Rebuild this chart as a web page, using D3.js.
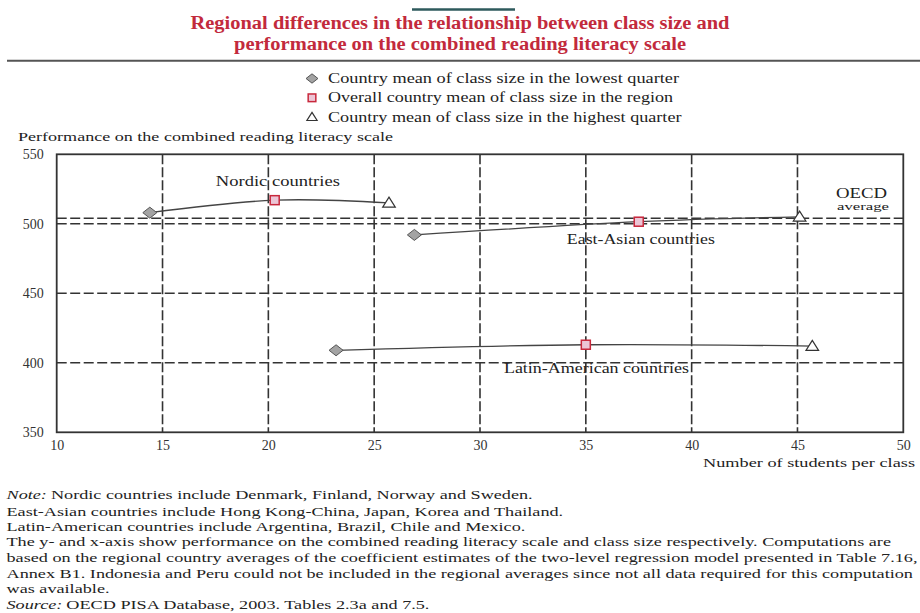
<!DOCTYPE html>
<html><head><meta charset="utf-8">
<script src="https://cdn.jsdelivr.net/npm/d3@7"></script>
<style>
html,body{margin:0;padding:0;background:#fff;}
svg{display:block;}
</style></head>
<body><svg id="chart" width="920" height="613"></svg>
<script>
// ---- data ----
const regions = ["Nordic countries", "East-Asian countries", "Latin-American countries"];
const lowX  = [14.4, 26.9, 23.2];   // class size, lowest quarter
const lowY  = [508, 492, 409];
const meanX = [20.3, 37.5, 35.0];   // overall regional mean class size
const meanY = [517, 501.5, 413];
const highX = [25.7, 45.1, 45.7];   // class size, highest quarter
const highY = [515, 505, 412];
const labelX = [20.45, 37.6, 35.5];
const labelY = [527, 485.5, 393];
const oecdAverage = 504;
const xTicks = [10, 15, 20, 25, 30, 35, 40, 45, 50];
const yTicks = [350, 400, 450, 500, 550];
const titleLines = ["Regional differences in the relationship between class size and",
                    "performance on the combined reading literacy scale"];
const legendLabels = ["Country mean of class size in the lowest quarter",
                      "Overall country mean of class size in the region",
                      "Country mean of class size in the highest quarter"];
const noteLead = ["Note:", "", "", "", "", "", "", "Source:"];
const noteText = [
  "Nordic countries include Denmark, Finland, Norway and Sweden.",
  "East-Asian countries include Hong Kong-China, Japan, Korea and Thailand.",
  "Latin-American countries include Argentina, Brazil, Chile and Mexico.",
  "The y- and x-axis show performance on the combined reading literacy scale and class size respectively.  Computations are",
  "based on the regional country averages of the coefficient estimates of the two-level regression model presented in Table 7.16,",
  "Annex B1.  Indonesia and Peru could not be included in the regional averages since not all data required for this computation",
  "was available.",
  "OECD PISA Database, 2003. Tables 2.3a and 7.5."
];

const FONT = "'Liberation Serif', 'DejaVu Serif', serif";

// ---- layout ----
const svg = d3.select("#chart");
const x = d3.scaleLinear().domain([10, 50]).range([56.7, 903.3]);
const y = d3.scaleLinear().domain([350, 550]).range([432.3, 154.3]);

function txt(parent, xx, yy, s, size, opts) {
  opts = opts || {};
  const t = parent.append("text").attr("x", xx).attr("y", yy)
    .attr("font-family", FONT).style("font-family", FONT)
    .style("font-size", size + "px").style("fill", opts.fill || "#222")
    .attr("text-anchor", opts.anchor || "start").text(s);
  if (opts.italic) t.style("font-style", "italic");
  if (opts.weight) t.style("font-weight", opts.weight);
  if (opts.w) t.attr("textLength", opts.w).attr("lengthAdjust", "spacingAndGlyphs");
  return t;
}

// top decorative bar & rule
svg.append("line").attr("x1", 412).attr("x2", 515).attr("y1", 9.5).attr("y2", 9.5)
  .attr("stroke", "#2e5a5c").attr("stroke-width", 2.5);
svg.append("line").attr("x1", 7).attr("x2", 920).attr("y1", 60.7).attr("y2", 60.7)
  .attr("stroke", "#555").attr("stroke-width", 2);

// title
const titleW = [539, 452];
titleLines.forEach((t, i) => {
  txt(svg, 460, 28.5 + i * 21.5, t, 18.5, {anchor: "middle", w: titleW[i], fill: "#c22a3c", weight: "bold"});
});

// legend
const legW = [351, 345, 353.5];
legendLabels.forEach((t, i) => {
  const cy = 78.5 + i * 19.3;
  const g = svg.append("g").attr("transform", `translate(312,${cy})`);
  drawMarker(g, i, 0.85);
  txt(svg, 328, cy + 4.5, t, 14, {w: legW[i]});
});

function drawMarker(g, kind, s) {
  s = s || 1;
  if (kind === 0) {
    g.append("path").attr("d", `M${-7*s},0 L0,${-5.5*s} L${7*s},0 L0,${5.5*s} Z`)
      .attr("fill", "#a3a3a3").attr("stroke", "#555").attr("stroke-width", 1);
  } else if (kind === 1) {
    g.append("rect").attr("x", -4.5*s).attr("y", -4.5*s).attr("width", 9*s).attr("height", 9*s)
      .attr("fill", "#ecc6d6").attr("stroke", "#c8283c").attr("stroke-width", 1.5);
  } else {
    g.append("path").attr("d", `M0,${-5.5*s} L${6*s},${4*s} L${-6*s},${4*s} Z`)
      .attr("fill", "#fff").attr("stroke", "#333").attr("stroke-width", 1.2);
  }
}

// y axis title
txt(svg, 18, 141, "Performance on the combined reading literacy scale", 12.5, {w: 375});

// gridlines
const grid = svg.append("g");
grid.selectAll("line.v").data(xTicks.filter(d => d > 10 && d < 50)).enter().append("line")
  .attr("x1", d => x(d)).attr("x2", d => x(d)).attr("y1", y(550)).attr("y2", y(350))
  .attr("stroke", "#333").attr("stroke-width", 1.6).attr("stroke-dasharray", "10,3");
grid.selectAll("line.h").data(yTicks.filter(d => d > 350 && d < 550)).enter().append("line")
  .attr("x1", x(10)).attr("x2", x(50)).attr("y1", d => y(d)).attr("y2", d => y(d))
  .attr("stroke", "#333").attr("stroke-width", 1.6).attr("stroke-dasharray", "10,3.5");
// OECD average line
grid.append("line").attr("x1", x(10)).attr("x2", x(50) + 2)
  .attr("y1", y(oecdAverage)).attr("y2", y(oecdAverage))
  .attr("stroke", "#333").attr("stroke-width", 1.6).attr("stroke-dasharray", "10,3.5");

// frame
svg.append("rect").attr("x", x(10)).attr("y", y(550)).attr("width", x(50) - x(10)).attr("height", y(350) - y(550))
  .attr("fill", "none").attr("stroke", "#333").attr("stroke-width", 1.8);

// axes (tick labels)
const xAxis = d3.axisBottom(x).tickValues(xTicks).tickSize(0).tickPadding(8).tickFormat(d3.format("d"));
const xg = svg.append("g").attr("transform", `translate(0,${y(350)})`).call(xAxis);
xg.attr("font-family", FONT);
xg.select(".domain").remove();
xg.selectAll("text").style("font-size", "14px").style("font-family", FONT).style("fill", "#333");

const yAxis = d3.axisLeft(y).tickValues(yTicks).tickSize(0).tickPadding(13).tickFormat(d3.format("d"));
const yg = svg.append("g").attr("transform", `translate(${x(10)},0)`).call(yAxis);
yg.attr("font-family", FONT);
yg.select(".domain").remove();
yg.selectAll("text").style("font-size", "14px").style("font-family", FONT).style("fill", "#333");

txt(svg, 915, 467, "Number of students per class", 13, {anchor: "end", w: 212});

// region curves
const line = d3.line().x(d => x(d[0])).y(d => y(d[1])).curve(d3.curveNatural);
regions.forEach((r, i) => {
  const pts = [[lowX[i], lowY[i]], [meanX[i], meanY[i]], [highX[i], highY[i]]];
  svg.append("path").attr("d", line(pts)).attr("fill", "none")
    .attr("stroke", "#444").attr("stroke-width", 1.3);
});
// labels
const labW = [124, 148, 185];
regions.forEach((r, i) => {
  txt(svg, x(labelX[i]), y(labelY[i]), r, 14, {anchor: "middle", w: labW[i]});
});
// markers
regions.forEach((r, i) => {
  drawMarker(svg.append("g").attr("transform", `translate(${x(lowX[i])},${y(lowY[i])})`), 0, 1);
  drawMarker(svg.append("g").attr("transform", `translate(${x(meanX[i])},${y(meanY[i])})`), 1, 1);
  drawMarker(svg.append("g").attr("transform", `translate(${x(highX[i])},${y(highY[i])})`), 2, 1.05);
});

// OECD label
txt(svg, 861.5, 198, "OECD", 15, {anchor: "middle", w: 51});
txt(svg, 863, 209.5, "average", 11, {anchor: "middle", w: 52});

// notes: consistent horizontal stretch, calibrated so the longest line ends at the right edge
const noteY = [499, 515.5, 530.8, 546, 562, 577.5, 593, 609];
const NOTE_SIZE = 13;
const noteG = svg.append("g");
const leads = [], bodies = [];
noteText.forEach((s, i) => {
  leads.push(noteLead[i] ? txt(noteG, 6.5, noteY[i], noteLead[i], NOTE_SIZE, {italic: true}) : null);
  bodies.push(txt(noteG, 6.5, noteY[i], s, NOTE_SIZE));
});
const refLen = bodies[4].node().getComputedTextLength();
const k = 911 / refLen;
const spaceW = 4;
noteText.forEach((s, i) => {
  let x0 = 6.5;
  if (leads[i]) {
    const lw = leads[i].node().getComputedTextLength() * k;
    leads[i].attr("textLength", lw).attr("lengthAdjust", "spacingAndGlyphs");
    x0 = 6.5 + lw + spaceW;
  }
  const bw = bodies[i].node().getComputedTextLength() * k;
  bodies[i].attr("x", x0).attr("textLength", bw).attr("lengthAdjust", "spacingAndGlyphs");
});
</script></body></html>
